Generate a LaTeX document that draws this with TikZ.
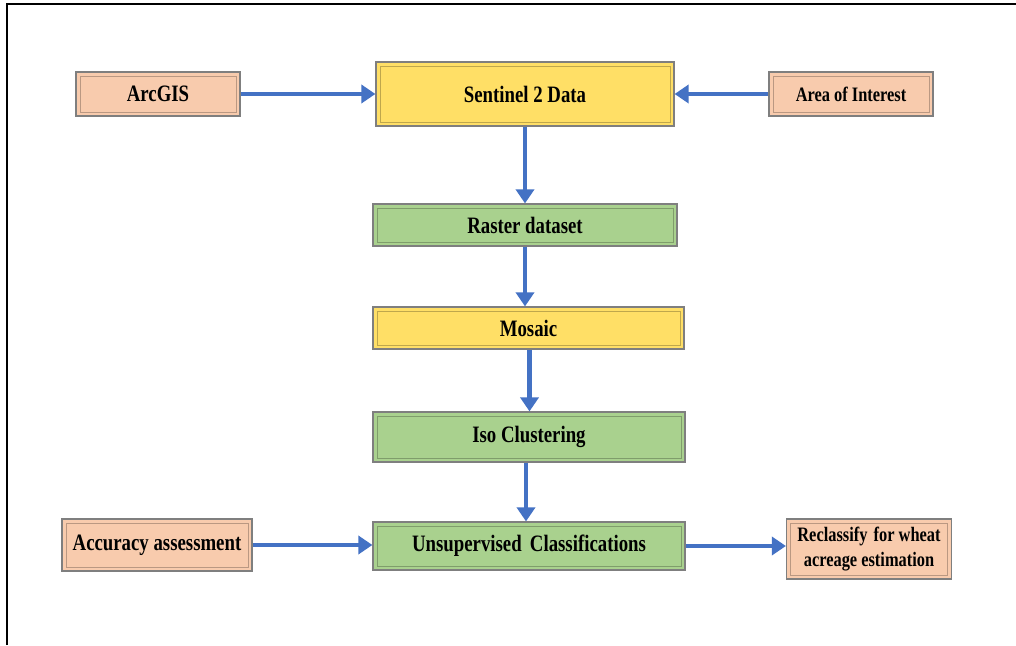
\documentclass[tikz,border=0pt]{standalone}
\usepackage{fontspec}
\setmainfont{Liberation Serif}[FakeStretch=0.8]
\usepackage{tikz}
\usetikzlibrary{arrows.meta}
\definecolor{peach}{HTML}{F8CBAD}
\definecolor{sunny}{HTML}{FFDF66}
\definecolor{leaf}{HTML}{A9D18E}
\definecolor{flowblue}{HTML}{4472C4}
\definecolor{edgegray}{HTML}{7F7F7F}
\tikzset{
box/.style={draw=edgegray, line width=1.2pt, fill=#1, inner sep=0pt, align=center,
  font=\fontsize{23.5}{26}\selectfont\bfseries,
  path picture={\draw[#1!75!black, line width=0.6pt]
    ([shift={(4pt,4pt)}]path picture bounding box.south west) rectangle
    ([shift={(-4pt,-4pt)}]path picture bounding box.north east);}},
small/.style={font=\fontsize{20.5}{25}\selectfont\bfseries},
flow/.style={flowblue, line width=4.5pt, -{Triangle[length=14pt,width=18pt]}}
}
\begin{document}
\begin{tikzpicture}[x=1pt, y=1pt]
\useasboundingbox (0,0) rectangle (1016,645);
\draw[line width=2.5pt] (7,0) -- (7,641) -- (1016,641);
% top row
\node[box=peach, minimum width=164, minimum height=44] (arcgis) at (158,551) {ArcGIS};
\node[box=sunny, minimum width=298, minimum height=64] (sentinel) at (525,551) {Sentinel 2 Data};
\node[box=peach, small, minimum width=164, minimum height=44] (aoi) at (851,551) {Area of Interest};
% middle column
\node[box=leaf, minimum width=304, minimum height=42] (raster) at (525,420) {Raster dataset};
\node[box=sunny, minimum width=311, minimum height=42] (mosaic) at (528.5,317) {Mosaic};
\node[box=leaf, minimum width=312, minimum height=50] (iso) at (529,208) {Iso Clustering};
% bottom row
\node[box=leaf, minimum width=312, minimum height=48] (unsup) at (529,99) {Unsupervised\hspace{0.15em} Classifications};
\node[box=peach, minimum width=190, minimum height=52] (accuracy) at (157,100) {Accuracy assessment};
\node[box=peach, small, minimum width=165, minimum height=60] (reclass) at (869,96) {Reclassify\hspace{0.1em} for wheat\\acreage estimation};
% arrows
\draw[flow] (arcgis) -- (sentinel);
\draw[flow] (aoi) -- (sentinel);
\draw[flow] (sentinel.south) -- (sentinel.south |- raster.north);
\draw[flow] (raster.south) -- (raster.south |- mosaic.north);
\draw[flow] ([xshift=1pt]mosaic.south) -- ([xshift=1pt]mosaic.south |- iso.north);
\draw[flow] ([xshift=-3pt]iso.south) -- ([xshift=-3pt]iso.south |- unsup.north);
\draw[flow] (accuracy) -- (accuracy -| unsup.west);
\draw[flow] (unsup.east) -- (unsup.east -| reclass.west);
\end{tikzpicture}
\end{document}
